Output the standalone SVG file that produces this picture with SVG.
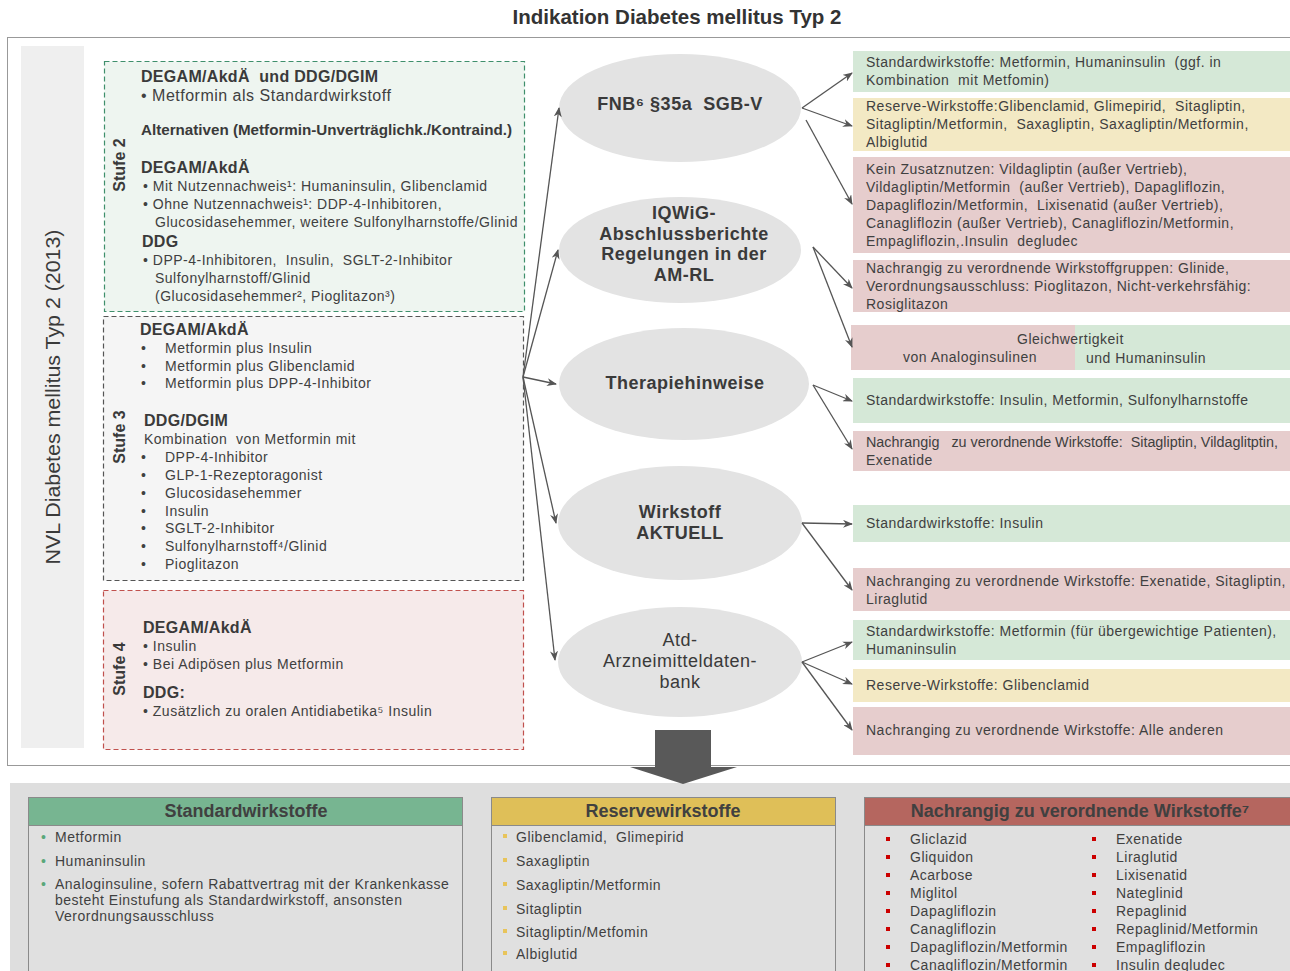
<svg xmlns="http://www.w3.org/2000/svg" width="1290" height="971" viewBox="0 0 1290 971">
<style>
text{font-family:"Liberation Sans",Arial,sans-serif;fill:#404040;white-space:pre}
.t{font-size:14px;letter-spacing:0.5px}
.h{font-size:16px;font-weight:bold;fill:#3a3a3a;letter-spacing:0.3px}
.m{font-size:16px;letter-spacing:0.5px}
.e{font-size:18px;font-weight:bold;fill:#3a3a3a;text-anchor:middle;letter-spacing:0.5px}
.en{font-size:18px;fill:#3a3a3a;text-anchor:middle;letter-spacing:0.5px}
.st{font-size:16px;font-weight:bold;fill:#3a3a3a;text-anchor:middle}
.bh{font-size:18px;font-weight:bold;fill:#404040;text-anchor:middle}
.ell{fill:#e3e3e3}
.g{fill:#d5e8d7}
.y{fill:#f3e9c4}
.r{fill:#e6cdcd}
.cn line{stroke:#555;stroke-width:1.3;marker-end:url(#ah)}
</style>
<defs>
<marker id="ah" markerWidth="10" markerHeight="8" refX="9" refY="4" orient="auto" markerUnits="userSpaceOnUse">
<path d="M0,0 L10,4 L0,8 L3,4 Z" fill="#555"/>
</marker>
</defs>
<rect width="1290" height="971" fill="#fff"/>
<text x="677" y="24" style="font-size:20.5px;font-weight:bold;fill:#333;text-anchor:middle">Indikation Diabetes mellitus Typ 2</text>
<rect x="7.5" y="37.5" width="1290" height="728" fill="none" stroke="#999" stroke-width="1"/>
<g id="nvl">
<rect x="21" y="46" width="63" height="702" fill="#efefef"/>
<text transform="translate(60,397) rotate(-90)" style="font-size:20px;fill:#3a3a3a;text-anchor:middle" textLength="335" lengthAdjust="spacingAndGlyphs">NVL Diabetes mellitus Typ 2 (2013)</text>
</g>
<g id="stufe2">
<rect x="104.5" y="61.5" width="420" height="250" fill="#eef5f0" stroke="#3f8f6c" stroke-width="1.2" stroke-dasharray="5,3"/>
<text transform="translate(125,165) rotate(-90)" class="st">Stufe 2</text>
<text x="141" y="82" class="h">DEGAM/AkdÄ  und DDG/DGIM</text>
<text x="141" y="101" class="m">• Metformin als Standardwirkstoff</text>
<text x="141" y="135" style="font-size:14px;font-weight:bold;fill:#3a3a3a" textLength="371" lengthAdjust="spacingAndGlyphs">Alternativen (Metformin-Unverträglichk./Kontraind.)</text>
<text x="141" y="173" class="h">DEGAM/AkdÄ</text>
<text x="143" y="191" class="t">• Mit Nutzennachweis¹: Humaninsulin, Glibenclamid</text>
<text x="143" y="209" class="t">• Ohne Nutzennachweis¹: DDP-4-Inhibitoren,</text>
<text x="155" y="227" class="t" textLength="363" lengthAdjust="spacingAndGlyphs">Glucosidasehemmer, weitere Sulfonylharnstoffe/Glinid</text>
<text x="142" y="247" class="h">DDG</text>
<text x="143" y="265" class="t">• DPP-4-Inhibitoren,  Insulin,  SGLT-2-Inhibitor</text>
<text x="155" y="283" class="t">Sulfonylharnstoff/Glinid</text>
<text x="155" y="301" class="t">(Glucosidasehemmer², Pioglitazon³)</text>
</g>
<g id="stufe3">
<rect x="103.5" y="316.5" width="420" height="264" fill="#f5f5f5" stroke="#555" stroke-width="1.2" stroke-dasharray="5,3"/>
<text transform="translate(125,437) rotate(-90)" class="st">Stufe 3</text>
<text x="140" y="335" class="h">DEGAM/AkdÄ</text>
<text x="141" y="353" class="t">•</text><text x="165" y="353" class="t">Metformin plus Insulin</text>
<text x="141" y="371" class="t">•</text><text x="165" y="371" class="t">Metformin plus Glibenclamid</text>
<text x="141" y="388" class="t">•</text><text x="165" y="388" class="t">Metformin plus DPP-4-Inhibitor</text>
<text x="144" y="426" class="h">DDG/DGIM</text>
<text x="144" y="444" class="t">Kombination  von Metformin mit</text>
<text x="141" y="462" class="t">•</text><text x="165" y="462" class="t">DPP-4-Inhibitor</text>
<text x="141" y="480" class="t">•</text><text x="165" y="480" class="t">GLP-1-Rezeptoragonist</text>
<text x="141" y="498" class="t">•</text><text x="165" y="498" class="t">Glucosidasehemmer</text>
<text x="141" y="516" class="t">•</text><text x="165" y="516" class="t">Insulin</text>
<text x="141" y="533" class="t">•</text><text x="165" y="533" class="t">SGLT-2-Inhibitor</text>
<text x="141" y="551" class="t">•</text><text x="165" y="551" class="t">Sulfonylharnstoff⁴/Glinid</text>
<text x="141" y="569" class="t">•</text><text x="165" y="569" class="t">Pioglitazon</text>
</g>
<g id="stufe4">
<rect x="103.5" y="590.5" width="420" height="159" fill="#f6eaea" stroke="#c0504d" stroke-width="1.2" stroke-dasharray="5,3"/>
<text transform="translate(125,669) rotate(-90)" class="st">Stufe 4</text>
<text x="143" y="633" class="h">DEGAM/AkdÄ</text>
<text x="143" y="651" class="t">• Insulin</text>
<text x="143" y="669" class="t">• Bei Adipösen plus Metformin</text>
<text x="143" y="698" class="h">DDG:</text>
<text x="143" y="716" class="t">• Zusätzlich zu oralen Antidiabetika⁵ Insulin</text>
</g>
<g id="fnb"><ellipse cx="680" cy="108" rx="121" ry="54" class="ell"/><text x="680" y="110" class="e">FNB⁶ §35a  SGB-V</text></g>
<g id="iqwig"><ellipse cx="680" cy="250" rx="121" ry="53" class="ell"/>
<text x="684" y="219" class="e">IQWiG-</text><text x="684" y="240" class="e">Abschlussberichte</text><text x="684" y="260" class="e">Regelungen in der</text><text x="684" y="281" class="e">AM-RL</text></g>
<g id="therapie"><ellipse cx="684" cy="384" rx="125" ry="56" class="ell"/><text x="685" y="389" class="e">Therapiehinweise</text></g>
<g id="wirkstoff"><ellipse cx="680" cy="523" rx="122" ry="57" class="ell"/><text x="680" y="518" class="e">Wirkstoff</text><text x="680" y="539" class="e">AKTUELL</text></g>
<g id="atd"><ellipse cx="680" cy="662" rx="122" ry="55" class="ell"/><text x="680" y="646" class="en">Atd-</text><text x="680" y="667" class="en">Arzneimitteldaten-</text><text x="680" y="688" class="en">bank</text></g>
<g id="r1"><rect x="853" y="51" width="437" height="41" class="g"/><text x="866" y="67" class="t">Standardwirkstoffe: Metformin, Humaninsulin  (ggf. in</text><text x="866" y="85" class="t">Kombination  mit Metfomin)</text></g>
<g id="r2"><rect x="853" y="98" width="437" height="53" class="y"/><text x="866" y="111" class="t">Reserve-Wirkstoffe:Glibenclamid, Glimepirid,  Sitagliptin,</text><text x="866" y="129" class="t">Sitagliptin/Metformin,  Saxagliptin, Saxagliptin/Metformin,</text><text x="866" y="147" class="t">Albiglutid</text></g>
<g id="r3"><rect x="853" y="157" width="437" height="96" class="r"/><text x="866" y="174" class="t">Kein Zusatznutzen: Vildagliptin (außer Vertrieb),</text><text x="866" y="192" class="t">Vildagliptin/Metformin  (außer Vertrieb), Dapagliflozin,</text><text x="866" y="210" class="t">Dapagliflozin/Metformin,  Lixisenatid (außer Vertrieb),</text><text x="866" y="228" class="t">Canagliflozin (außer Vertrieb), Canagliflozin/Metformin,</text><text x="866" y="246" class="t">Empagliflozin,.Insulin  degludec</text></g>
<g id="r4"><rect x="853" y="260" width="437" height="52" class="r"/><text x="866" y="273" class="t">Nachrangig zu verordnende Wirkstoffgruppen: Glinide,</text><text x="866" y="291" class="t">Verordnungsausschluss: Pioglitazon, Nicht-verkehrsfähig:</text><text x="866" y="309" class="t">Rosiglitazon</text></g>
<g id="r5"><rect x="851" y="325" width="224" height="45" class="r"/><rect x="1075" y="325" width="215" height="45" class="g"/><text x="1017" y="344" class="t">Gleichwertigkeit</text><text x="903" y="362" class="t">von Analoginsulinen</text><text x="1086" y="363" class="t">und Humaninsulin</text></g>
<g id="r6"><rect x="853" y="378" width="437" height="45" class="g"/><text x="866" y="405" class="t">Standardwirkstoffe: Insulin, Metformin, Sulfonylharnstoffe</text></g>
<g id="r7"><rect x="853" y="431" width="437" height="40" class="r"/><text x="866" y="447" style="font-size:14px;letter-spacing:0" textLength="412" lengthAdjust="spacingAndGlyphs">Nachrangig   zu verordnende Wirkstoffe:  Sitagliptin, Vildaglitptin,</text><text x="866" y="465" class="t">Exenatide</text></g>
<g id="r8"><rect x="853" y="505" width="437" height="37" class="g"/><text x="866" y="528" class="t">Standardwirkstoffe: Insulin</text></g>
<g id="r9"><rect x="853" y="568" width="437" height="43" class="r"/><text x="866" y="586" class="t">Nachranging zu verordnende Wirkstoffe: Exenatide, Sitagliptin,</text><text x="866" y="604" class="t">Liraglutid</text></g>
<g id="r10"><rect x="853" y="620" width="437" height="40" class="g"/><text x="866" y="636" class="t">Standardwirkstoffe: Metformin (für übergewichtige Patienten),</text><text x="866" y="654" class="t">Humaninsulin</text></g>
<g id="r11"><rect x="853" y="669" width="437" height="33" class="y"/><text x="866" y="690" class="t">Reserve-Wirkstoffe: Glibenclamid</text></g>
<g id="r12"><rect x="853" y="707" width="437" height="48" class="r"/><text x="866" y="735" class="t">Nachranging zu verordnende Wirkstoffe: Alle anderen</text></g>
<g id="connectors" class="cn">
<line x1="523" y1="377" x2="559" y2="108"/>
<line x1="523" y1="377" x2="558" y2="250"/>
<line x1="523" y1="377" x2="556" y2="384"/>
<line x1="523" y1="377" x2="556" y2="523"/>
<line x1="523" y1="377" x2="555" y2="660"/>
<line x1="802" y1="108" x2="852" y2="73"/>
<line x1="802" y1="108" x2="852" y2="126"/>
<line x1="806" y1="120" x2="852" y2="204"/>
<line x1="813" y1="247" x2="852" y2="288"/>
<line x1="813" y1="247" x2="852" y2="347"/>
<line x1="813" y1="385" x2="852" y2="401"/>
<line x1="813" y1="385" x2="852" y2="449"/>
<line x1="802" y1="523" x2="852" y2="524"/>
<line x1="802" y1="523" x2="852" y2="590"/>
<line x1="802" y1="662" x2="852" y2="642"/>
<line x1="802" y1="662" x2="852" y2="684"/>
<line x1="802" y1="662" x2="852" y2="730"/>
</g>
<g id="bottom">
<rect x="10" y="783" width="1280" height="188" fill="#dedede"/>
<path d="M655,730 H711 V767 H737 L683,784 L630,767 H655 Z" fill="#595959"/>
</g>
<g id="std">
<rect x="28.5" y="797.5" width="434" height="190" fill="#e0e0e0" stroke="#8a8a8a"/>
<rect x="28.5" y="797.5" width="434" height="28" fill="#77b591" stroke="#8a8a8a"/>
<text x="246" y="817" class="bh">Standardwirkstoffe</text>
<text x="41" y="842" class="t" style="fill:#5aa77a">•</text><text x="55" y="842" class="t">Metformin</text>
<text x="41" y="866" class="t" style="fill:#5aa77a">•</text><text x="55" y="866" class="t">Humaninsulin</text>
<text x="41" y="889" class="t" style="fill:#5aa77a">•</text><text x="55" y="889" class="t">Analoginsuline, sofern Rabattvertrag mit der Krankenkasse</text>
<text x="55" y="905" class="t">besteht Einstufung als Standardwirkstoff, ansonsten</text>
<text x="55" y="921" class="t">Verordnungsausschluss</text>
</g>
<g id="res">
<rect x="491.5" y="797.5" width="344" height="190" fill="#e0e0e0" stroke="#8a8a8a"/>
<rect x="491.5" y="797.5" width="344" height="28" fill="#dfbf58" stroke="#8a8a8a"/>
<text x="663" y="817" class="bh">Reservewirkstoffe</text>
<g fill="#e8c45a"><rect x="503" y="834" width="4" height="4"/><rect x="503" y="858" width="4" height="4"/><rect x="503" y="882" width="4" height="4"/><rect x="503" y="906" width="4" height="4"/><rect x="503" y="929" width="4" height="4"/><rect x="503" y="951" width="4" height="4"/></g>
<text x="516" y="842" class="t">Glibenclamid,  Glimepirid</text>
<text x="516" y="866" class="t">Saxagliptin</text>
<text x="516" y="890" class="t">Saxagliptin/Metformin</text>
<text x="516" y="914" class="t">Sitagliptin</text>
<text x="516" y="937" class="t">Sitagliptin/Metfomin</text>
<text x="516" y="959" class="t">Albiglutid</text>
</g>
<g id="nach">
<rect x="864.5" y="797.5" width="440" height="190" fill="#e0e0e0" stroke="#8a8a8a"/>
<rect x="864.5" y="797.5" width="440" height="28" fill="#b5665f" stroke="#8a8a8a"/>
<text x="1080" y="817" class="bh">Nachrangig zu verordnende Wirkstoffe⁷</text>
<g fill="#cc0000">
<rect x="886" y="837" width="4" height="4"/><rect x="886" y="855" width="4" height="4"/><rect x="886" y="873" width="4" height="4"/><rect x="886" y="891" width="4" height="4"/><rect x="886" y="909" width="4" height="4"/><rect x="886" y="927" width="4" height="4"/><rect x="886" y="945" width="4" height="4"/><rect x="886" y="963" width="4" height="4"/>
<rect x="1092" y="837" width="4" height="4"/><rect x="1092" y="855" width="4" height="4"/><rect x="1092" y="873" width="4" height="4"/><rect x="1092" y="891" width="4" height="4"/><rect x="1092" y="909" width="4" height="4"/><rect x="1092" y="927" width="4" height="4"/><rect x="1092" y="945" width="4" height="4"/><rect x="1092" y="963" width="4" height="4"/>
</g>
<text x="910" y="844" class="t">Gliclazid</text>
<text x="910" y="862" class="t">Gliquidon</text>
<text x="910" y="880" class="t">Acarbose</text>
<text x="910" y="898" class="t">Miglitol</text>
<text x="910" y="916" class="t">Dapagliflozin</text>
<text x="910" y="934" class="t">Canagliflozin</text>
<text x="910" y="952" class="t">Dapagliflozin/Metformin</text>
<text x="910" y="970" class="t">Canagliflozin/Metformin</text>
<text x="1116" y="844" class="t">Exenatide</text>
<text x="1116" y="862" class="t">Liraglutid</text>
<text x="1116" y="880" class="t">Lixisenatid</text>
<text x="1116" y="898" class="t">Nateglinid</text>
<text x="1116" y="916" class="t">Repaglinid</text>
<text x="1116" y="934" class="t">Repaglinid/Metformin</text>
<text x="1116" y="952" class="t">Empagliflozin</text>
<text x="1116" y="970" class="t">Insulin degludec</text>
</g>
</svg>
